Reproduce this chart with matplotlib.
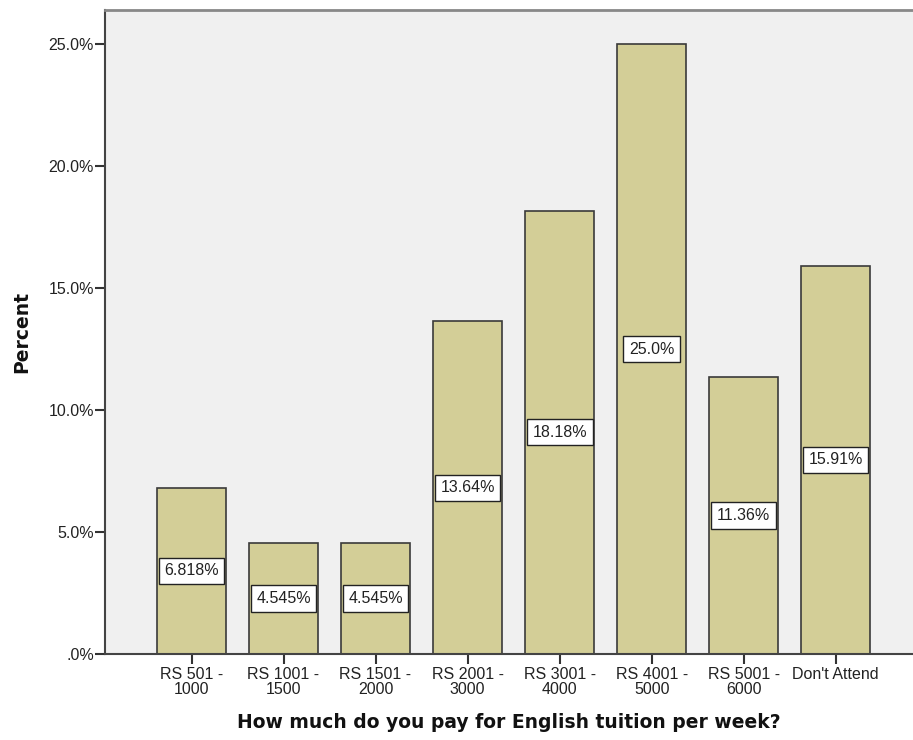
import matplotlib
matplotlib.use("Agg")
import matplotlib.pyplot as plt

categories = ["RS 501 -\n1000", "RS 1001 -\n1500", "RS 1501 -\n2000", "RS 2001 -\n3000",
              "RS 3001 -\n4000", "RS 4001 -\n5000", "RS 5001 -\n6000", "Don't Attend"]
percent = [6.818, 4.545, 4.545, 13.64, 18.18, 25.0, 11.36, 15.91]
value_labels = ["6.818%", "4.545%", "4.545%", "13.64%", "18.18%", "25.0%", "11.36%", "15.91%"]
yticks = [0, 5, 10, 15, 20, 25]
ytick_labels = [".0%", "5.0%", "10.0%", "15.0%", "20.0%", "25.0%"]

plt.rcParams['font.family'] = ['Liberation Sans', 'DejaVu Sans']
txt = '#222222'

fig = plt.figure(figsize=(9.13, 7.40), dpi=100)
ax = fig.add_axes([0.115, 0.1162, 0.885, 0.8703])
ax.set_facecolor('#F0F0F0')

x = list(range(len(categories)))
ax.bar(x, percent, width=0.75, color='#D3CE97', edgecolor='#3a3a3a', linewidth=1.2, zorder=2)
for xi, v, lab in zip(x, percent, value_labels):
    ax.text(xi, v / 2, lab, ha='center', va='center', fontsize=11.5, color=txt, zorder=3,
            bbox=dict(boxstyle='square,pad=0.35', facecolor='white', edgecolor='#222222', linewidth=1.0))

ax.set_xlim(-0.94, 7.84)
ax.set_ylim(0, 26.4)
ax.set_yticks(yticks)
ax.set_yticklabels(ytick_labels)
ax.set_xticks(x)
ax.set_xticklabels(categories, linespacing=1.0)
ax.tick_params(axis='both', labelsize=11.5, colors='#333333', labelcolor=txt, length=7, width=1.5, direction='out')
ax.tick_params(axis='x', pad=2)
ax.tick_params(axis='y', pad=1)

for s in ['left', 'bottom']:
    ax.spines[s].set_color('#444444')
    ax.spines[s].set_linewidth(1.5)
ax.spines['top'].set_color('#888888')
ax.spines['top'].set_linewidth(2)
ax.spines['right'].set_visible(False)

ax.set_ylabel('Percent', fontsize=13.5, fontweight='bold', color='#111111', labelpad=12, family='DejaVu Sans')
ax.set_xlabel('How much do you pay for English tuition per week?', fontsize=13.5, fontweight='bold',
              color='#111111', labelpad=12, family='DejaVu Sans')

fig.savefig('out.png', dpi=100)
